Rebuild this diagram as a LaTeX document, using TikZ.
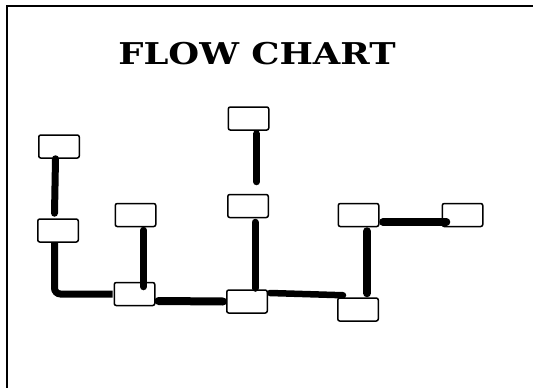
\documentclass[tikz,border=0pt]{standalone}
\usepackage{fontspec}
\newfontfamily\titlefont{DejaVu Serif}
\begin{document}
\begin{tikzpicture}[x=1pt,y=-1pt,
  boxnode/.style={draw, line width=1.5pt, rounded corners=2pt, minimum width=40.5pt, minimum height=23pt, inner sep=0pt},
  conn/.style={line width=7pt, line cap=round}]
\useasboundingbox (0,0) rectangle (533,388);
% frame
\draw[line width=2pt] (7,388) -- (7,5.5) -- (533,5.5);
% title
\node[font=\titlefont\bfseries\fontsize{30}{30}\selectfont, inner sep=0pt, xscale=1.18] (title) at (257,54) {FLOW CHART};
% boxes
\node[boxnode] (A) at (59,146.5) {};
\node[boxnode] (B) at (58,230.5) {};
\node[boxnode] (C) at (135.5,215) {};
\node[boxnode] (D) at (134.5,294) {};
\node[boxnode] (E) at (248.5,118.5) {};
\node[boxnode] (F) at (248,206) {};
\node[boxnode] (G) at (247,301.5) {};
\node[boxnode] (H) at (358.5,215) {};
\node[boxnode] (I) at (462.5,215) {};
\node[boxnode] (J) at (358,309.5) {};
% connectors
\draw[conn] ([xshift=-3.5pt]A.south) -- ([xshift=-3.5pt,yshift=5pt]B.north);
\draw[conn, line cap=butt, rounded corners=6pt] ([xshift=-3.5pt]B.south) |- ([xshift=-1pt]D.west);
\draw[conn] ([xshift=8pt,yshift=-3pt]C.south) -- ([xshift=9pt,yshift=-5pt]D.north);
\draw[conn, line width=8pt] ([xshift=3pt,yshift=-7pt]D.east) -- ([xshift=-3pt,yshift=0pt]G.west);
\draw[conn] ([xshift=8pt,yshift=-3pt]E.south) -- ([xshift=8.5pt,yshift=12pt]F.north);
\draw[conn] ([xshift=7pt,yshift=-4pt]F.south) -- ([xshift=8pt,yshift=1pt]G.north);
\draw[conn, line width=6.5pt] ([xshift=2pt,yshift=8.5pt]G.east) -- ([xshift=6pt,yshift=2pt]J.north west);
\draw[conn, line width=8pt] ([xshift=8.5pt,yshift=-4pt]H.south) -- ([xshift=9pt,yshift=4pt]J.north);
\draw[conn, line width=7.5pt] ([xshift=3.5pt,yshift=-7pt]H.east) -- ([xshift=5pt,yshift=-7pt]I.west);
\end{tikzpicture}
\end{document}
